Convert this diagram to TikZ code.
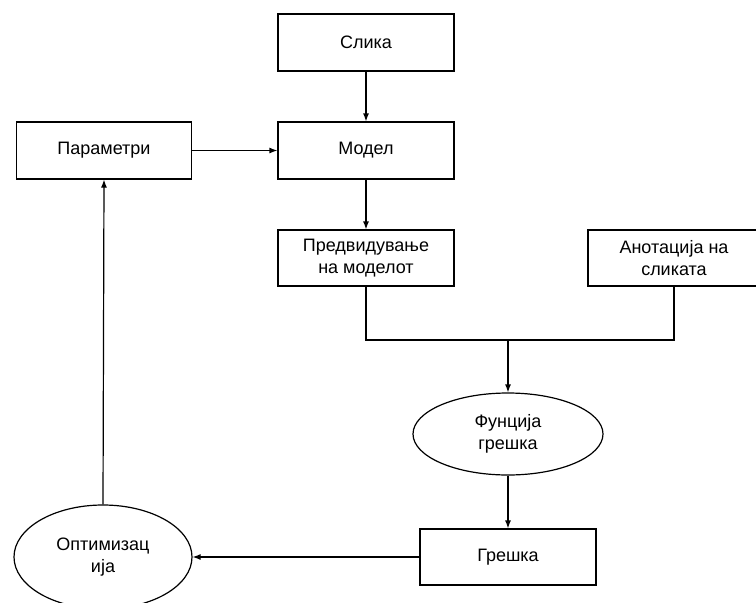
\documentclass[tikz,border=0pt]{standalone}
\usepackage{fontspec}
\setmainfont{Liberation Sans}
\usetikzlibrary{arrows.meta,shapes.geometric}
\tikzset{
  box/.style={draw, line width=1.2pt, rectangle, minimum width=176pt, minimum height=57pt, inner sep=0pt, align=center, font=\fontsize{18}{22}\selectfont},
  oval/.style={draw, line width=1.2pt, ellipse, inner sep=0pt, align=center, font=\fontsize{18}{22}\selectfont},
  conn/.style={line width=1.2pt},
  arr/.style={line width=1.2pt, -{Latex[length=8pt,width=6pt]}}
}
\begin{document}
\begin{tikzpicture}[x=1pt,y=-1pt]
\useasboundingbox (0,0) rectangle (756,603);
\node[box] (slika) at (366,42.5) {Слика};
\node[box] (model) at (366,150.5) {Модел};
\node[box, minimum width=175pt] (param) at (104,150.5) {Параметри};
\node[box, minimum height=56pt] (pred) at (366,258) {Предвидување\\на моделот};
\node[box, minimum width=172pt, minimum height=56pt] (anot) at (674,258) {Анотација на\\сликата};
\node[oval, minimum width=190pt, minimum height=82pt] (fun) at (508,434) {Фунција\\грешка};
\node[box, minimum height=56pt] (greska) at (508,557) {Грешка};
\node[oval, minimum width=178pt, minimum height=104pt] (opt) at (103,557) {Оптимизац\\ија};
\coordinate (m) at (508,340);
\draw[arr] (slika.south) -- (model.north);
\draw[arr] (param.east) -- (model.west);
\draw[arr] (model.south) -- (pred.north);
\draw[conn] (pred.south) |- (m) -| (anot.south);
\draw[arr] (m) -- (fun.north);
\draw[arr] (fun.south) -- (greska.north);
\draw[arr] (greska.west) -- (opt.east);
\draw[arr] (opt.north) -- (param.south);
\end{tikzpicture}
\end{document}
